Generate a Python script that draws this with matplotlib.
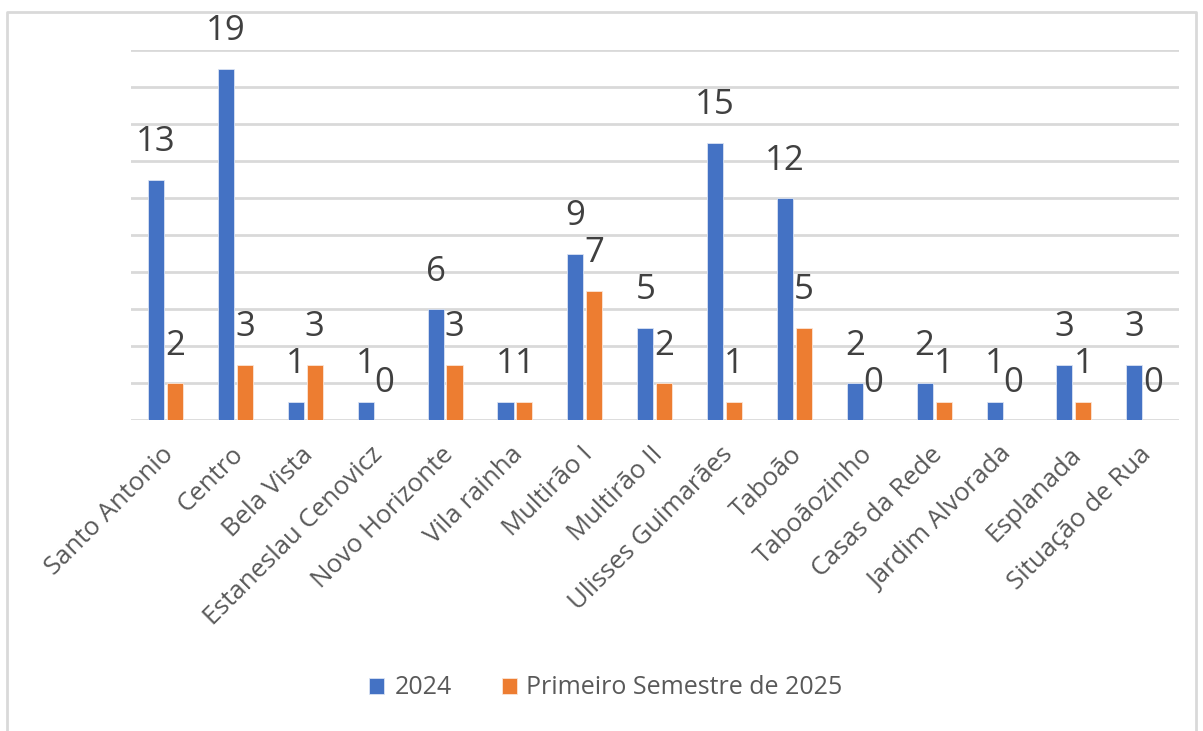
import matplotlib.pyplot as plt
import numpy as np
from matplotlib.lines import Line2D
from matplotlib.transforms import ScaledTranslation

plt.rcParams['font.family'] = ['Open Sans', 'DejaVu Sans']

bairros = ["Santo Antonio", "Centro", "Bela Vista", "Estaneslau Cenovicz",
           "Novo Horizonte", "Vila rainha", "Multirão I", "Multirão II",
           "Ulisses Guimarães", "Taboão", "Taboãozinho", "Casas da Rede",
           "Jardim Alvorada", "Esplanada", "Situação de Rua"]
v2024 = [13, 19, 1, 1, 6, 1, 9, 5, 15, 12, 2, 2, 1, 3, 3]
v2025 = [2, 3, 3, 0, 3, 1, 7, 2, 1, 5, 0, 1, 0, 1, 0]
series = ["2024", "Primeiro Semestre de 2025"]

blue = "#4472c4"
orange = "#ed7d31"
txt = "#595959"

fig = plt.figure(figsize=(12.03, 7.31), dpi=100)
ax = fig.add_axes([131 / 1203, 1 - 420 / 731, 1048 / 1203, 370 / 731])

x = np.arange(len(bairros))
w = 0.23
b1 = ax.bar(x - 0.14, v2024, w, color=blue, edgecolor="#dae3f3", linewidth=0.6,
            label=series[0], zorder=3)
b2 = ax.bar(x + 0.13, v2025, w, color=orange, edgecolor="#fbe5d6", linewidth=0.6,
            label=series[1], zorder=3)

for bars, vals in ((b1, v2024), (b2, v2025)):
    for r, v in zip(bars, vals):
        ax.annotate(str(v), (r.get_x() + r.get_width() / 2, v),
                    xytext=(0, 27), textcoords="offset points",
                    ha="center", va="center", fontsize=25, color="#404040",
                    zorder=4)

ax.set_xlim(-0.5, len(bairros) - 0.5)
ax.set_ylim(0, 20)
ax.set_yticks(np.arange(0, 21, 2))
ax.yaxis.grid(True, color="#d9d9d9", linewidth=2, zorder=0)
ax.tick_params(axis="y", left=False, labelleft=False)
ax.tick_params(axis="x", length=0, pad=16)
for s in ax.spines.values():
    s.set_visible(False)

ax.set_xticks(x)
ax.set_xticklabels(bairros, rotation=45, ha="right", rotation_mode="anchor",
                   fontsize=18.5, color=txt)
shift = ScaledTranslation(-5 / 100, 0, fig.dpi_scale_trans)
for lab in ax.get_xticklabels():
    lab.set_transform(lab.get_transform() + shift)

leg = fig.legend(handles=[b1, b2], labels=series, loc="center",
                 bbox_to_anchor=(606 / 1203, 1 - 688 / 731), ncol=2,
                 frameon=False, fontsize=18, handlelength=0.6,
                 handleheight=0.6, columnspacing=2.0, handletextpad=0.4)
for t in leg.get_texts():
    t.set_color(txt)

# moldura do gráfico
fx = [7 / 1203, 7 / 1203, 1196 / 1203, 1196 / 1203]
fy = [0, 1 - 12 / 731, 1 - 12 / 731, 0]
fig.add_artist(Line2D(fx, fy, transform=fig.transFigure, color="#d9d9d9",
                      linewidth=2))

fig.savefig("out.png", dpi=100)
